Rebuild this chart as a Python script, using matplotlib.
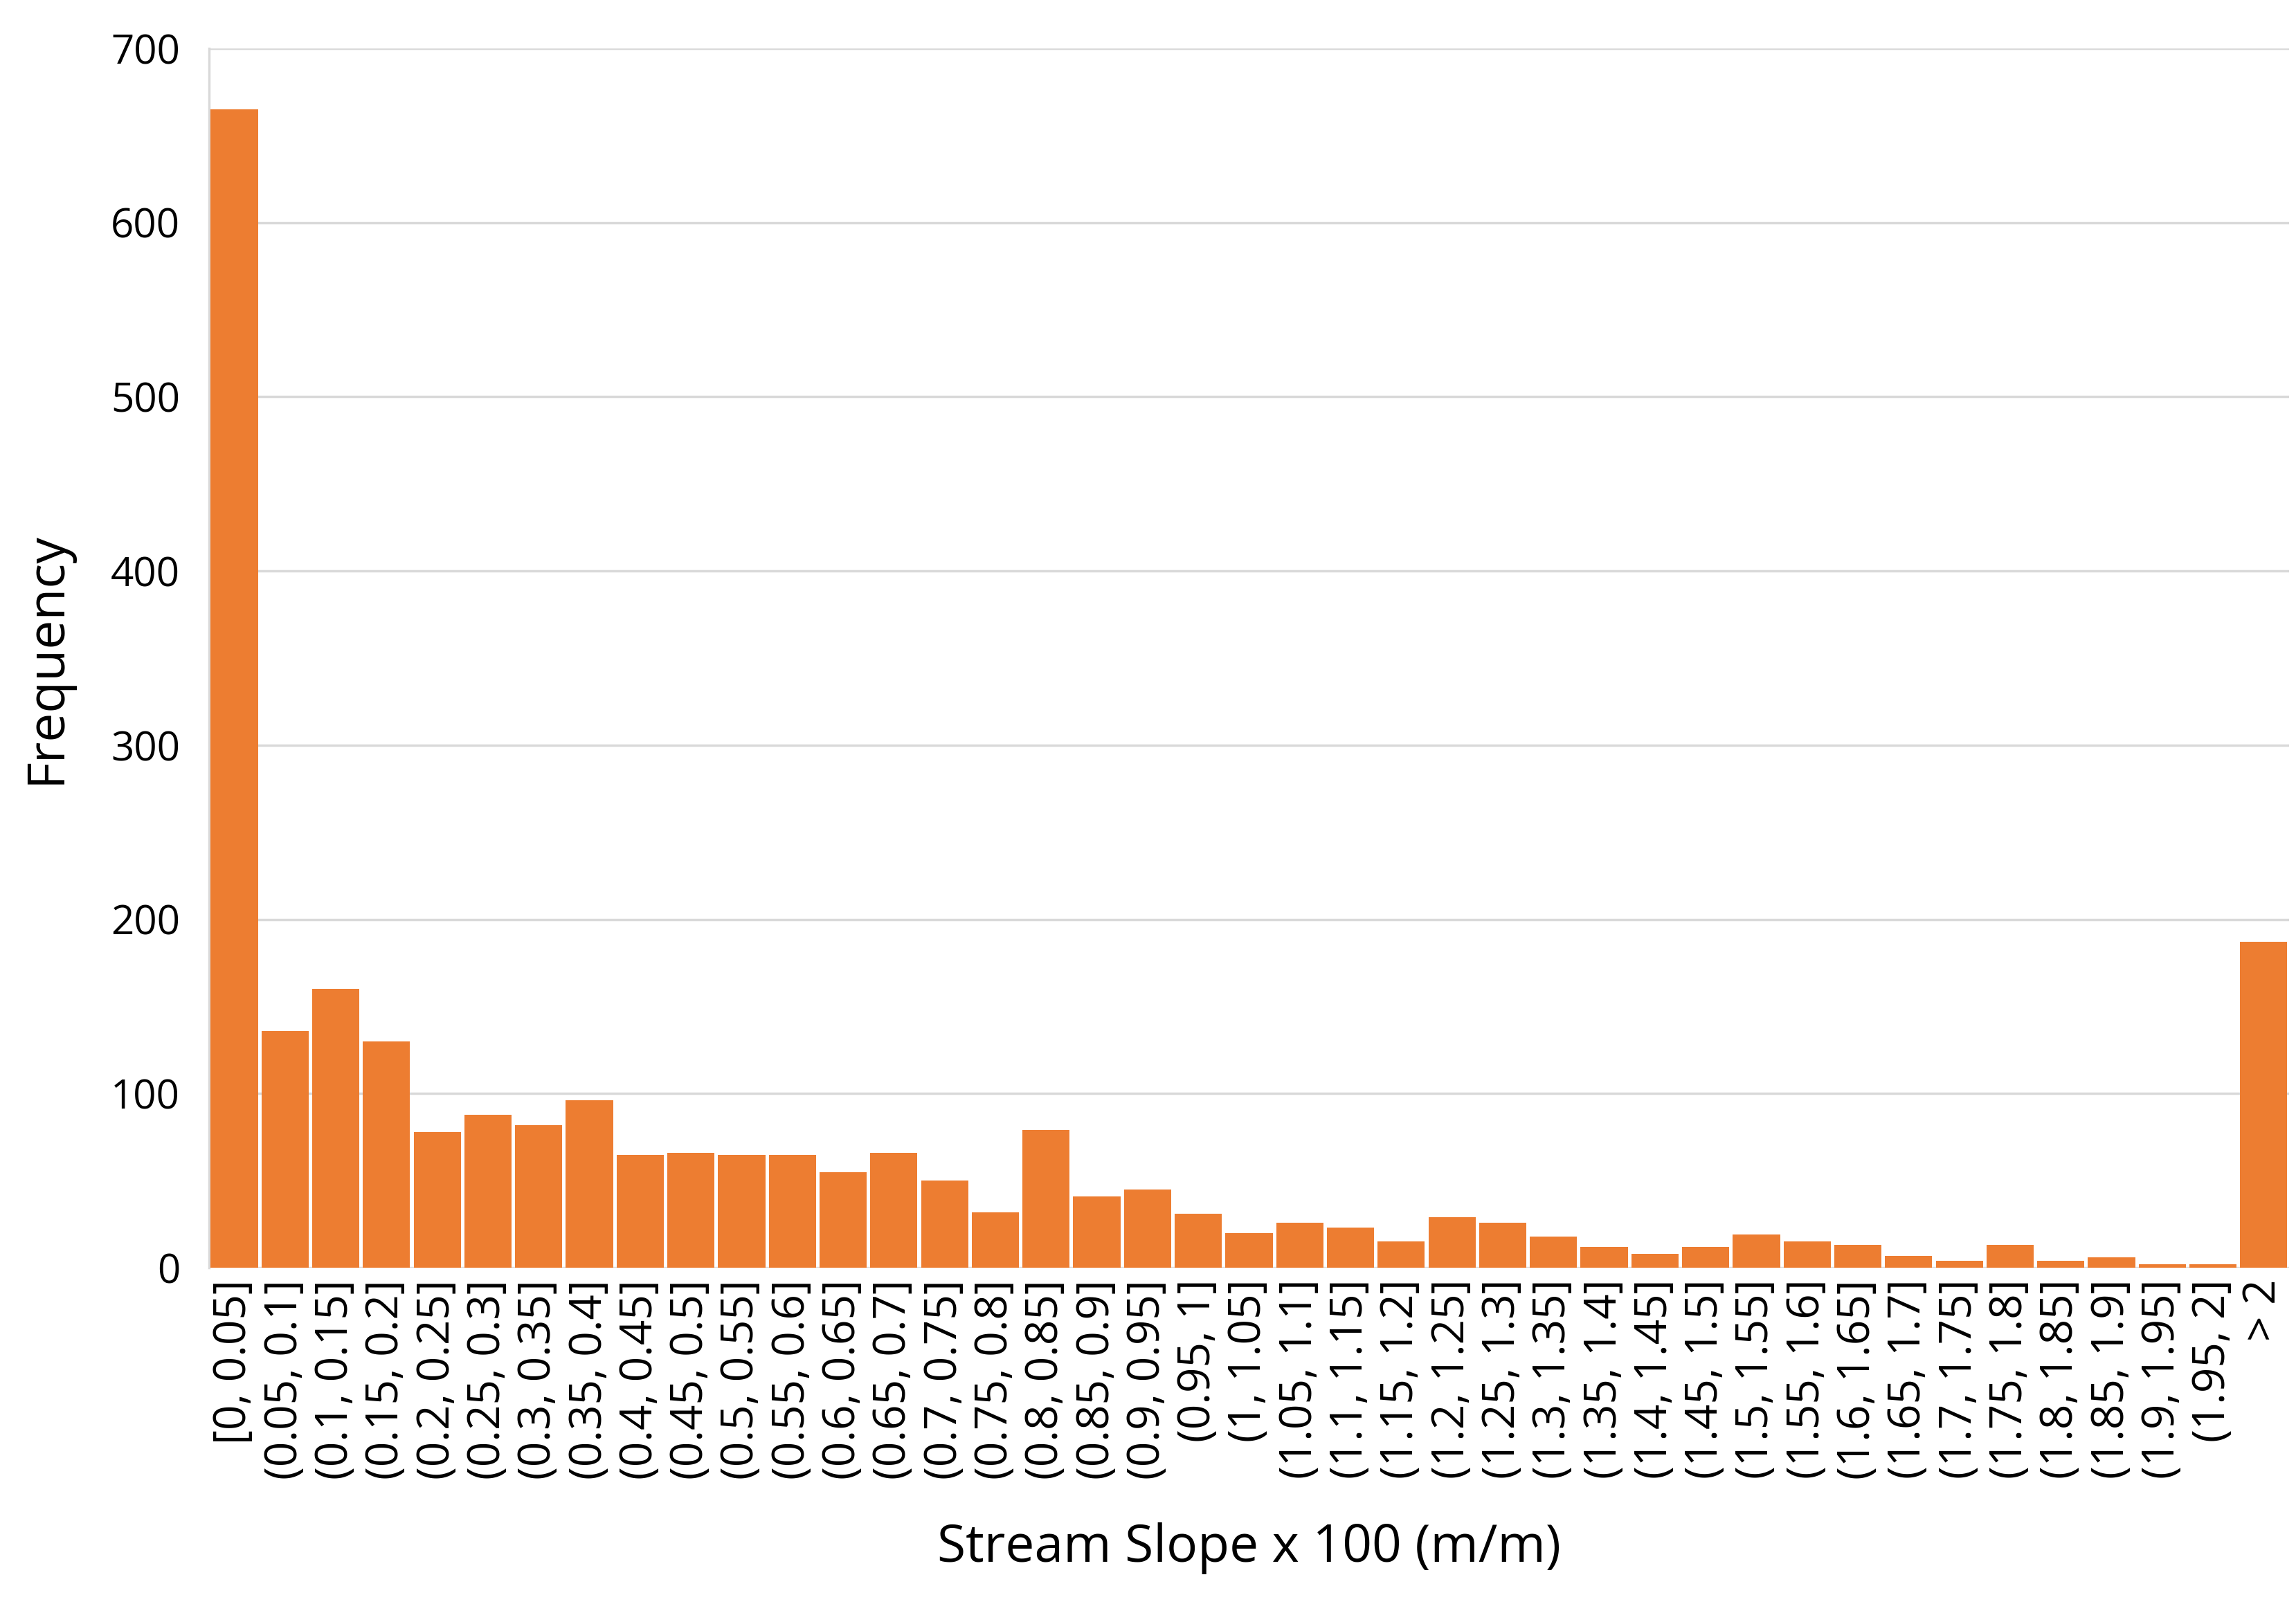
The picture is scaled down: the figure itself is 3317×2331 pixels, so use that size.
import matplotlib
matplotlib.use('AGG')
import matplotlib.pyplot as plt

edges = ['0', '0.05', '0.1', '0.15', '0.2', '0.25', '0.3', '0.35', '0.4', '0.45',
         '0.5', '0.55', '0.6', '0.65', '0.7', '0.75', '0.8', '0.85', '0.9', '0.95',
         '1', '1.05', '1.1', '1.15', '1.2', '1.25', '1.3', '1.35', '1.4', '1.45',
         '1.5', '1.55', '1.6', '1.65', '1.7', '1.75', '1.8', '1.85', '1.9', '1.95', '2']
labels = ['[0, 0.05]'] + ['(%s, %s]' % (a, b) for a, b in zip(edges[1:-1], edges[2:])] + ['> 2']
freq = [665, 136, 160, 130, 78, 88, 82, 96, 65, 66, 65, 65, 55, 66, 50, 32, 79,
        41, 45, 31, 20, 26, 23, 15, 29, 26, 18, 12, 8, 12, 19, 15, 13, 7, 4, 13,
        4, 6, 2, 2, 187]

plt.rcParams['font.family'] = ['Open Sans', 'DejaVu Sans']
fig = plt.figure(figsize=(33.17, 23.31), dpi=100)
ax = fig.add_axes([0.091, 0.214, 0.906, 0.756])
x = range(len(freq))
ax.bar(x, freq, width=0.93, color='#ED7D31', zorder=3)
ax.set_xlim(-0.5, len(freq) - 0.5)
ax.set_ylim(0, 700)
ax.set_yticks(range(0, 701, 100))
ax.set_xticks(list(x))
ax.set_xticklabels(labels, rotation=90, fontsize=46)
ax.tick_params(axis='y', labelsize=42, length=0, pad=30)
ax.tick_params(axis='x', length=0, pad=12)
ax.grid(axis='y', color='#D9D9D9', linewidth=2.5, zorder=0)
for s in ['top', 'right', 'bottom']:
    ax.spines[s].set_visible(False)
ax.spines['left'].set_color('#D9D9D9')
ax.spines['left'].set_linewidth(2.5)
ax.set_ylabel('Frequency', fontsize=54, labelpad=40)
ax.set_xlabel('Stream Slope x 100 (m/m)', fontsize=54, labelpad=45)
fig.savefig('out.png', dpi=100)
